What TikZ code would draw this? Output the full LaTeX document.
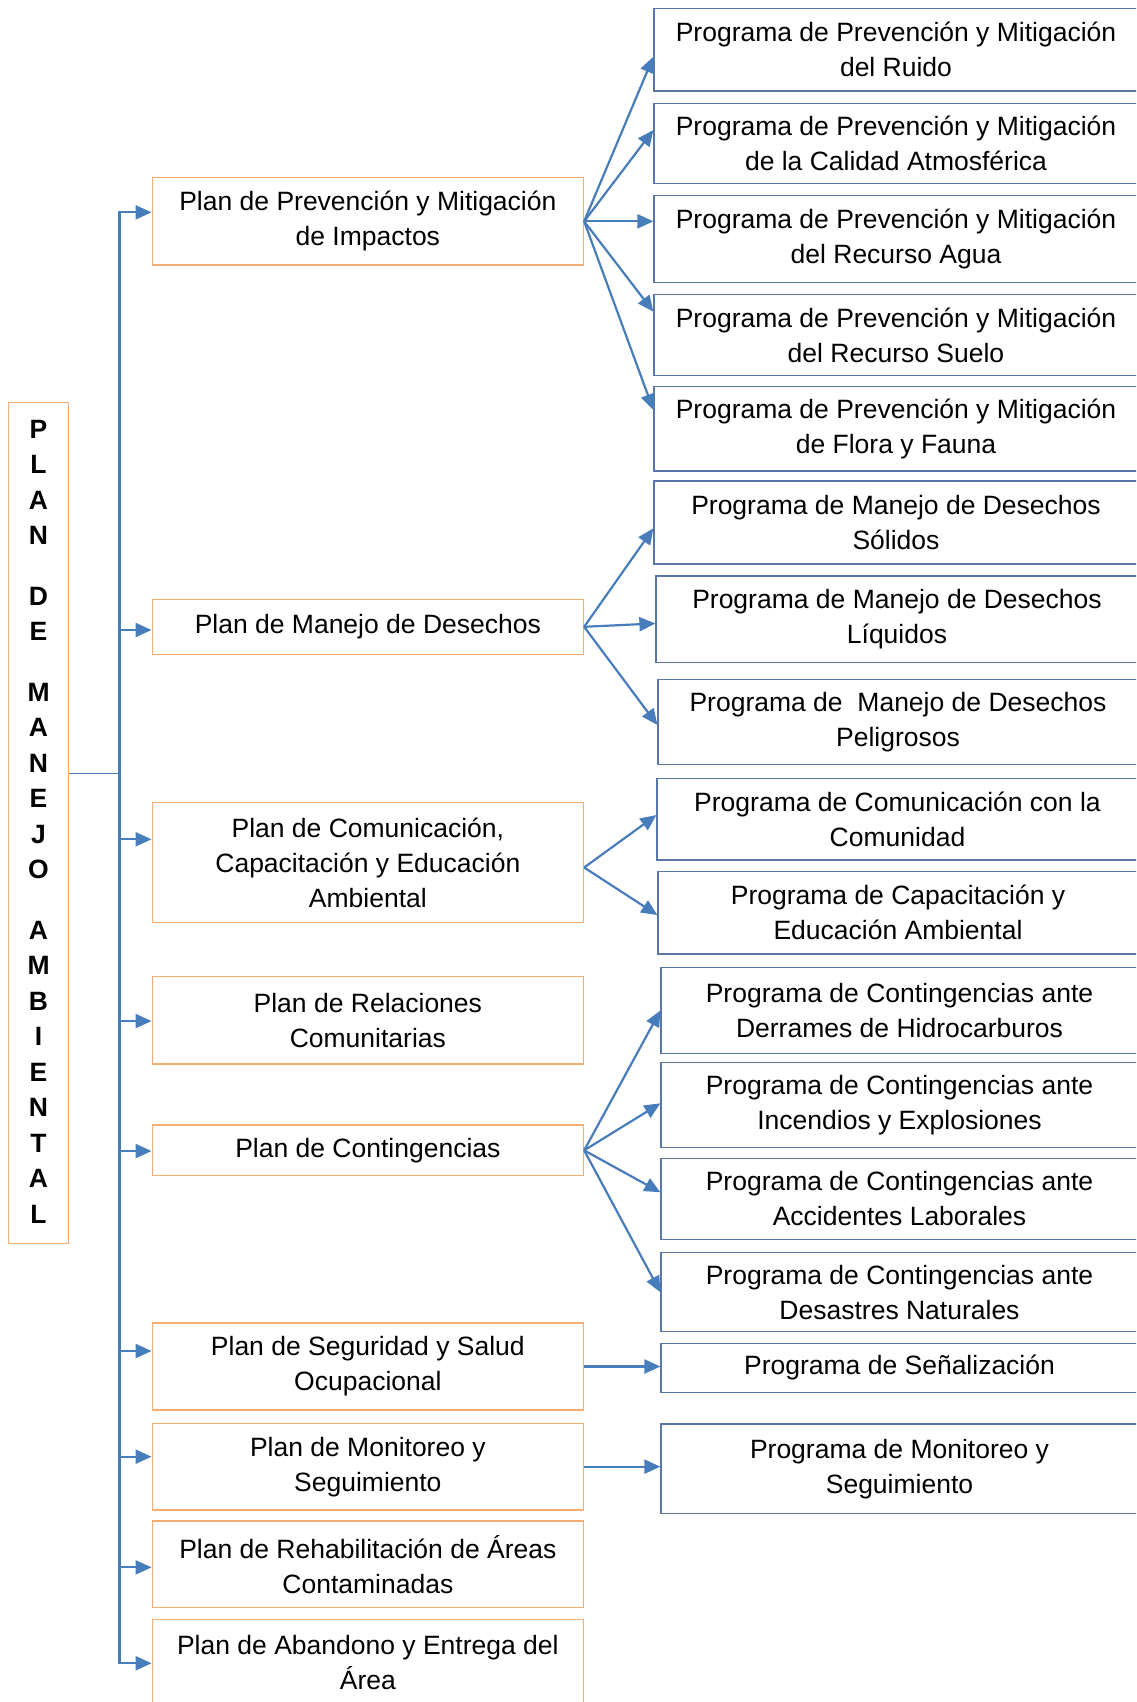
\documentclass[tikz,border=0pt]{standalone}
\usepackage{fontspec}
\setmainfont{Liberation Sans}
\usetikzlibrary{arrows.meta,calc}
\definecolor{planline}{RGB}{247,172,112}
\definecolor{progline}{RGB}{88,118,168}
\definecolor{linkblue}{RGB}{72,125,188}
\newcommand{\boxfont}{\fontsize{26.5}{35}\selectfont}

\begin{document}
\begin{tikzpicture}[x=1pt,y=-1pt,
  textbox/.style={rectangle, inner sep=0pt, align=center, font=\boxfont},
  plan/.style={textbox, draw=planline, line width=1.3pt, minimum width=431.3pt},
  prog/.style={textbox, draw=progline, line width=1.2pt},
  tip/.tip={Triangle[length=16pt,width=14pt]},
  linkarrow/.style={draw=linkblue, line width=2.2pt, -tip},
]
\useasboundingbox (0,0) rectangle (1136,1702);
\clip (0,0) rectangle (1136,1702);

% main title box
\node[draw=planline, line width=1.3pt, rectangle, inner sep=0pt,
      minimum width=59.7pt, minimum height=841pt, align=center,
      font=\bfseries\fontsize{26.5}{35.5}\selectfont] (lbox) at (38.55,823)
  {P\\L\\A\\N\\[25pt]D\\E\\[25pt]M\\A\\N\\E\\J\\O\\[25pt]A\\M\\B\\I\\E\\N\\T\\A\\L\rule[-3pt]{0pt}{3pt}};

% plans
\node[plan, minimum height=87.3pt] (p1) at (367.85,221.35) {Plan de Prevención y Mitigación\\de Impactos};
\node[plan, minimum height=55pt]   (p2) at (367.85,626.8)  {Plan de Manejo de Desechos};
\node[plan, minimum height=119.6pt] (p3) at (367.85,862.5) {Plan de Comunicación,\\Capacitación y Educación\\Ambiental};
\node[plan, minimum height=87.3pt] (p4) at (367.85,1020.35) {Plan de Relaciones\\Comunitarias};
\node[plan, minimum height=50.7pt] (p5) at (367.85,1150.35) {Plan de Contingencias};
\node[plan, minimum height=87pt]   (p6) at (367.85,1366.5) {Plan de Seguridad y Salud\\Ocupacional};
\node[plan, minimum height=86.7pt] (p7) at (367.85,1466.65) {Plan de Monitoreo y\\Seguimiento};
\node[plan, minimum height=86.7pt] (p8) at (367.85,1564.35) {Plan de Rehabilitación de Áreas\\Contaminadas};
\node[plan, minimum height=86.7pt] (p9) at (367.85,1662.65) {Plan de Abandono y Entrega del\\Área};

% programs
\node[prog, minimum width=484pt, minimum height=82.7pt] (r1) at (896,49.65) {Programa de Prevención y Mitigación\\del Ruido};
\node[prog, minimum width=484pt, minimum height=80.4pt] (r2) at (896,143.5) {Programa de Prevención y Mitigación\\de la Calidad Atmosférica};
\node[prog, minimum width=484pt, minimum height=86.6pt] (r3) at (896,239) {Programa de Prevención y Mitigación\\del Recurso Agua};
\node[prog, minimum width=484pt, minimum height=81.4pt] (r4) at (896,335) {Programa de Prevención y Mitigación\\del Recurso Suelo};
\node[prog, minimum width=484pt, minimum height=84.3pt] (r5) at (896,428.85) {Programa de Prevención y Mitigación\\de Flora y Fauna};
\node[prog, minimum width=484pt, minimum height=83pt]   (r6) at (896,522.5) {Programa de Manejo de Desechos\\Sólidos};
\node[prog, minimum width=482pt, minimum height=86.3pt] (r7) at (897,619.15) {Programa de Manejo de Desechos\\Líquidos};
\node[prog, minimum width=480pt, minimum height=84.6pt] (r8) at (898,722) {Programa de\ \ Manejo de Desechos\\Peligrosos};
\node[prog, minimum width=481pt, minimum height=81.3pt] (r9) at (897.5,819.35) {Programa de Comunicación con la\\Comunidad};
\node[prog, minimum width=480pt, minimum height=82.3pt] (r10) at (898,912.85) {Programa de Capacitación y\\Educación Ambiental};
\node[prog, minimum width=477pt, minimum height=85.6pt] (r11) at (899.5,1010.5) {Programa de Contingencias ante\\Derrames de Hidrocarburos};
\node[prog, minimum width=477pt, minimum height=84.6pt] (r12) at (899.5,1105) {Programa de Contingencias ante\\Incendios y Explosiones};
\node[prog, minimum width=477pt, minimum height=81pt]   (r13) at (899.5,1198.8) {Programa de Contingencias ante\\Accidentes Laborales};
\node[prog, minimum width=477pt, minimum height=79pt]   (r14) at (899.5,1292.2) {Programa de Contingencias ante\\Desastres Naturales};
\node[prog, minimum width=477pt, minimum height=49pt]   (r15) at (899.5,1367.8) {Programa de Señalización};
\node[prog, minimum width=477pt, minimum height=89.7pt] (r16) at (899.5,1468.85) {Programa de Monitoreo y\\Seguimiento};

% trunk and its branches
\coordinate (trunk) at (119.4,773.6);
\draw[draw=linkblue, line width=1.6pt] (lbox.east |- trunk) -- (trunk);
\path ($(p1.west)+(0,-9)$) coordinate (e1)
      ($(p2.west)+(0,3.2)$) coordinate (e2)
      ($(p3.west)+(0,-23.2)$) coordinate (e3)
      ($(p4.west)+(0,0.7)$) coordinate (e4)
      ($(p5.west)+(0,0.7)$) coordinate (e5)
      ($(p6.west)+(0,-15.5)$) coordinate (e6)
      ($(p7.west)+(0,-10)$) coordinate (e7)
      ($(p8.west)+(0,3)$) coordinate (e8)
      ($(p9.west)+(0,0.6)$) coordinate (e9);
\draw[draw=linkblue, line width=2.2pt, tip-tip] (e1) -- (e1 -| trunk) -- (e9 -| trunk) -- (e9);
\foreach \k in {2,...,8} \draw[linkarrow] (e\k -| trunk) -- (e\k);

% plans to programs
\draw[linkarrow] (p1.east) -- ($(r1.west)+(0,7)$);
\draw[linkarrow] (p1.east) -- ($(r2.west)+(0,-13.5)$);
\draw[linkarrow] (p1.east) -- (p1.east -| r3.west);
\draw[linkarrow] (p1.east) -- ($(r4.west)+(0,-23.3)$);
\draw[linkarrow] (p1.east) -- ($(r5.west)+(0,-18.8)$);

\draw[linkarrow] (p2.east) -- ($(r6.west)+(0,5.8)$);
\draw[linkarrow] (p2.east) -- ($(r7.west)+(0,4.3)$);
\draw[linkarrow] (p2.east) -- ($(r8.west)+(0,3)$);

\coordinate (s3) at ($(p3.east)+(0,5)$);
\draw[linkarrow] (s3) -- ($(r9.west)+(0,-4.3)$);
\draw[linkarrow] (s3) -- ($(r10.west)+(0,2.2)$);

\draw[linkarrow] (p5.east) -- (r11.west);
\draw[linkarrow] (p5.east) -- ($(r12.west)+(0,-1.7)$);
\draw[linkarrow] (p5.east) -- ($(r13.west)+(0,-6.5)$);
\draw[linkarrow] (p5.east) -- (r14.west);

\draw[linkarrow] (p6.east) -- (p6.east -| r15.west);
\draw[linkarrow] (p7.east) -- (p7.east -| r16.west);
\end{tikzpicture}
\end{document}
